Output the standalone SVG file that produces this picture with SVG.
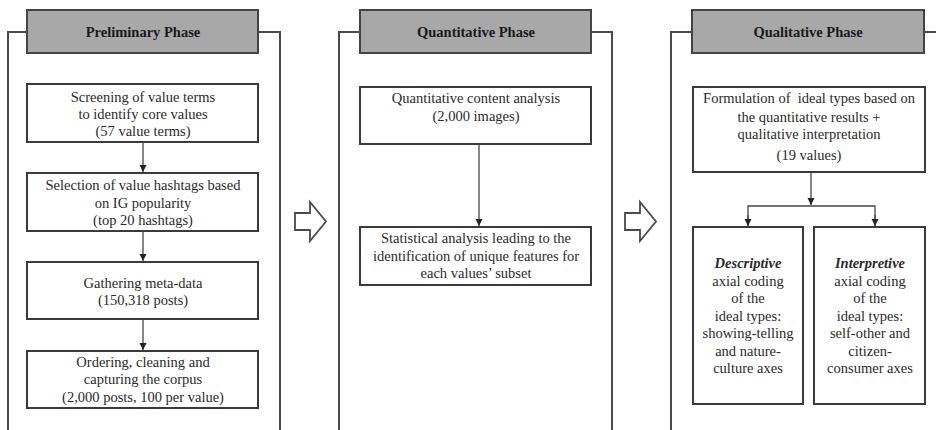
<svg xmlns="http://www.w3.org/2000/svg" width="936" height="430" viewBox="0 0 936 430">
<style>
.frame{fill:none;stroke:#4a4a4a;stroke-width:2}
.hdr{fill:#a8a8a8;stroke:#444;stroke-width:2}
.box{fill:#fff;stroke:#3a3a3a;stroke-width:2}
text{font-family:'Liberation Serif','DejaVu Serif',serif}
.t{font-size:14.5px;fill:#2a2a2a;text-anchor:middle}
.h{font-size:14.5px;font-weight:bold;fill:#1a1a1a;text-anchor:middle}
.bi{font-weight:bold;font-style:italic}
.ln{fill:none;stroke:#444;stroke-width:1.3}
.big{fill:#fff;stroke:#4a4a4a;stroke-width:1.8;stroke-linejoin:miter}
</style>
<defs>
<marker id="ah" markerWidth="8" markerHeight="8" refX="7" refY="4" orient="auto" markerUnits="userSpaceOnUse">
<path d="M0,0.5 L7,4 L0,7.5 Z" fill="#222"/>
</marker>
</defs>
<rect width="936" height="430" fill="#fff"/>

<g id="phase-preliminary">
<path class="frame" d="M27,32 H8 V430 M258,32 H280 V430"/>
<rect class="hdr" x="27" y="10" width="231" height="43"/>
<text class="h" x="143" y="37">Preliminary Phase</text>
</g>
<g id="phase-quantitative">
<path class="frame" d="M360,32 H339 V430 M591,32 H612 V430"/>
<rect class="hdr" x="360" y="10" width="231" height="43"/>
<text class="h" x="476" y="37">Quantitative Phase</text>
</g>
<g id="phase-qualitative">
<path class="frame" d="M692,32 H671 V430 M924,32 H940"/>
<rect class="hdr" x="692" y="10" width="232" height="43"/>
<text class="h" x="808" y="37">Qualitative Phase</text>
</g>

<g id="p1">
<rect class="box" x="27" y="84" width="231" height="58"/>
<text class="t" x="143" y="102">Screening of value terms</text>
<text class="t" x="143" y="119">to identify core values</text>
<text class="t" x="143" y="136">(57 value terms)</text>
</g>
<g id="p2">
<rect class="box" x="27" y="173" width="231" height="58"/>
<text class="t" x="143" y="190">Selection of value hashtags based</text>
<text class="t" x="143" y="207.5">on IG popularity</text>
<text class="t" x="143" y="225">(top 20 hashtags)</text>
</g>
<g id="p3">
<rect class="box" x="27" y="262" width="231" height="57"/>
<text class="t" x="143" y="288">Gathering meta-data</text>
<text class="t" x="143" y="305">(150,318 posts)</text>
</g>
<g id="p4">
<rect class="box" x="27" y="351" width="231" height="57"/>
<text class="t" x="143" y="367">Ordering, cleaning and</text>
<text class="t" x="143" y="384">capturing the corpus</text>
<text class="t" x="143" y="402">(2,000 posts, 100 per value)</text>
</g>

<g id="q1">
<rect class="box" x="360" y="87" width="231" height="57"/>
<text class="t" x="476" y="103">Quantitative content analysis</text>
<text class="t" x="476" y="121">(2,000 images)</text>
</g>
<g id="q2">
<rect class="box" x="360" y="227" width="231" height="58"/>
<text class="t" x="476" y="243">Statistical analysis leading to the</text>
<text class="t" x="476" y="261">identification of unique features for</text>
<text class="t" x="476" y="278">each values’ subset</text>
</g>

<g id="l1">
<rect class="box" x="693" y="87" width="232" height="85"/>
<text class="t" x="809" y="103" xml:space="preserve">Formulation of  ideal types based on</text>
<text class="t" x="809" y="121.5">the quantitative results +</text>
<text class="t" x="809" y="139">qualitative interpretation</text>
<text class="t" x="809" y="160">(19 values)</text>
</g>
<g id="l2">
<rect class="box" x="693" y="227" width="110" height="177"/>
<text class="t" x="748" y="268"><tspan class="bi">Descriptive</tspan></text>
<text class="t" x="748" y="286">axial coding</text>
<text class="t" x="748" y="303">of the</text>
<text class="t" x="748" y="321">ideal types:</text>
<text class="t" x="748" y="338">showing-telling</text>
<text class="t" x="748" y="356">and nature-</text>
<text class="t" x="748" y="373">culture axes</text>
</g>
<g id="l3">
<rect class="box" x="814" y="227" width="111" height="177"/>
<text class="t" x="870" y="268"><tspan class="bi">Interpretive</tspan></text>
<text class="t" x="870" y="286">axial coding</text>
<text class="t" x="870" y="303">of the</text>
<text class="t" x="870" y="321">ideal types:</text>
<text class="t" x="870" y="338">self-other and</text>
<text class="t" x="870" y="356">citizen-</text>
<text class="t" x="870" y="373">consumer axes</text>
</g>

<g id="transitions">
<path class="big" d="M295,213 H310 V202 L326,221.5 L310,241 V230 H295 Z"/>
<path class="big" d="M625,213 H640 V202 L656,221.5 L640,241 V230 H625 Z"/>
</g>

<g id="connectors">
<line class="ln" x1="143" y1="142" x2="143" y2="172" marker-end="url(#ah)"/>
<line class="ln" x1="143" y1="231" x2="143" y2="261" marker-end="url(#ah)"/>
<line class="ln" x1="143" y1="319" x2="143" y2="350" marker-end="url(#ah)"/>
<line class="ln" x1="479" y1="144" x2="479" y2="226" marker-end="url(#ah)"/>
<line class="ln" x1="811" y1="172" x2="811" y2="205" marker-end="url(#ah)"/>
<path class="ln" d="M748,226 V206 H875 V226"/>
<line class="ln" x1="748" y1="215" x2="748" y2="226" marker-end="url(#ah)"/>
<line class="ln" x1="875" y1="215" x2="875" y2="226" marker-end="url(#ah)"/>
</g>
</svg>
